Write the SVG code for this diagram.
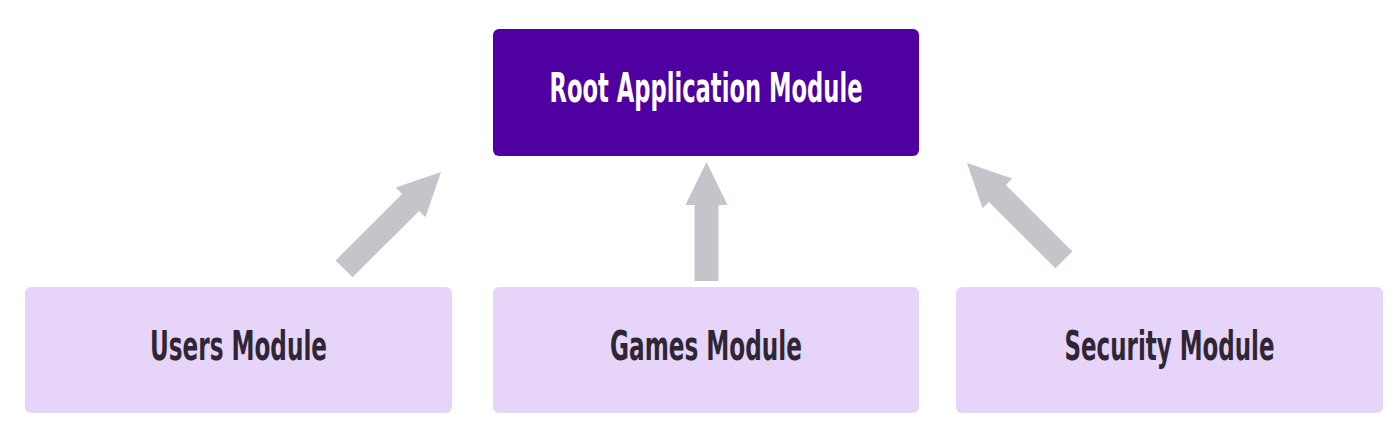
<svg xmlns="http://www.w3.org/2000/svg" width="1400" height="439" viewBox="0 0 1400 439">
<style>
.root{fill:#4F00A0}
.mod{fill:#E7D5F9}
.t{font-family:"DejaVu Sans Condensed","DejaVu Sans","Liberation Sans",sans-serif;font-weight:bold;font-size:41px;text-anchor:middle}
.tw{fill:#FFFFFF}
.td{fill:#2E2535}
.arr{fill:#C6C3CA}
</style>
<rect width="1400" height="439" fill="#FFFFFF"/>
<g id="root-module">
<rect class="root" x="493" y="29" width="426" height="127" rx="6"/>
<text class="t tw" x="706" y="102" textLength="313" lengthAdjust="spacingAndGlyphs">Root Application Module</text>
</g>
<g id="users-module">
<rect class="mod" x="25" y="287" width="427" height="126" rx="6"/>
<text class="t td" x="238.5" y="360" textLength="177" lengthAdjust="spacingAndGlyphs">Users Module</text>
</g>
<g id="games-module">
<rect class="mod" x="493" y="287" width="426" height="126" rx="6"/>
<text class="t td" x="706" y="360" textLength="192" lengthAdjust="spacingAndGlyphs">Games Module</text>
</g>
<g id="security-module">
<rect class="mod" x="956" y="287" width="427" height="126" rx="6"/>
<text class="t td" x="1169.5" y="360" textLength="210" lengthAdjust="spacingAndGlyphs">Security Module</text>
</g>
<g id="connectors">
<path class="arr" transform="translate(441,172) rotate(45)" d="M0,0 L21,43 L12,43 L12,137 L-12,137 L-12,43 L-21,43 Z"/>
<path class="arr" transform="translate(706.5,162)" d="M0,0 L21,43 L12,43 L12,119 L-12,119 L-12,43 L-21,43 Z"/>
<path class="arr" transform="translate(967,163) rotate(-45)" d="M0,0 L21,43 L12,43 L12,137 L-12,137 L-12,43 L-21,43 Z"/>
</g>
</svg>
